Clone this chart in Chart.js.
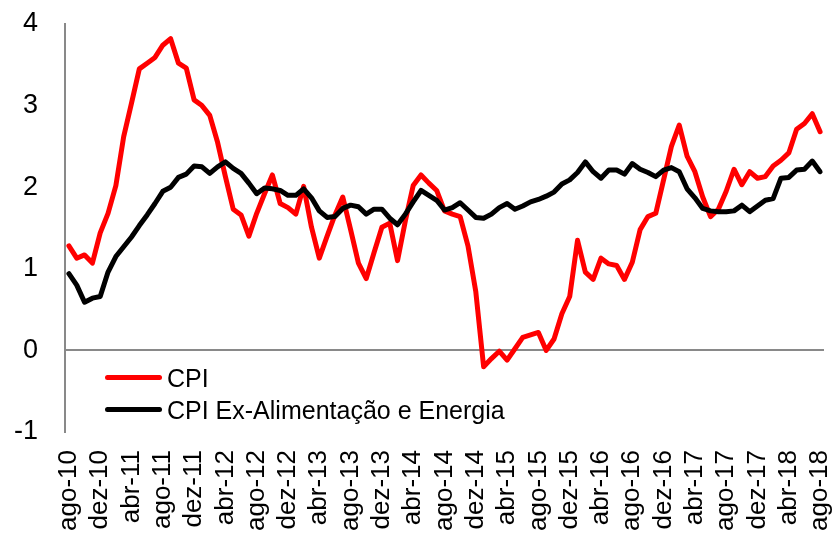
<!DOCTYPE html>
<html>
<head>
<meta charset="utf-8">
<script src="https://cdn.jsdelivr.net/npm/chart.js@4/dist/chart.umd.min.js"></script>
<style>
    body { margin: 0; background: #fff; }
    #wrap { position: relative; width: 840px; height: 539px; }
    .legend { position: absolute; left: 105px; font-family: "Liberation Sans", Arial, sans-serif; font-size: 25px; color: #000; }
    .legend div { position: relative; height: 32px; line-height: 32px; padding-left: 62px; white-space: nowrap; }
    .legend span { position: absolute; left: 0; top: 13px; width: 57px; height: 5px; border-radius: 3px; }
</style>
</head>
<body>
<div id="wrap">
    <canvas id="cpiChart" width="840" height="539"></canvas>
    <div class="legend" style="top: 362px;">
        <div><span style="background: #ff0000;"></span>CPI</div>
        <div><span style="background: #000000;"></span>CPI Ex-Alimentação e Energia</div>
    </div>
</div>
<script>
// meses, ago-10 ... ago-18
const months = [
    'ago-10','set-10','out-10','nov-10','dez-10',
    'jan-11','fev-11','mar-11','abr-11','mai-11','jun-11','jul-11','ago-11','set-11','out-11','nov-11','dez-11',
    'jan-12','fev-12','mar-12','abr-12','mai-12','jun-12','jul-12','ago-12','set-12','out-12','nov-12','dez-12',
    'jan-13','fev-13','mar-13','abr-13','mai-13','jun-13','jul-13','ago-13','set-13','out-13','nov-13','dez-13',
    'jan-14','fev-14','mar-14','abr-14','mai-14','jun-14','jul-14','ago-14','set-14','out-14','nov-14','dez-14',
    'jan-15','fev-15','mar-15','abr-15','mai-15','jun-15','jul-15','ago-15','set-15','out-15','nov-15','dez-15',
    'jan-16','fev-16','mar-16','abr-16','mai-16','jun-16','jul-16','ago-16','set-16','out-16','nov-16','dez-16',
    'jan-17','fev-17','mar-17','abr-17','mai-17','jun-17','jul-17','ago-17','set-17','out-17','nov-17','dez-17',
    'jan-18','fev-18','mar-18','abr-18','mai-18','jun-18','jul-18','ago-18'
];

const cpi = [
    1.28, 1.13, 1.17, 1.07, 1.44,
    1.68, 2.02, 2.62, 3.03, 3.45, 3.52, 3.59, 3.74, 3.82, 3.52, 3.46, 3.07,
    3.00, 2.88, 2.55, 2.13, 1.73, 1.66, 1.40, 1.68, 1.92, 2.15, 1.80, 1.75,
    1.67, 2.01, 1.51, 1.13, 1.40, 1.66, 1.88, 1.48, 1.07, 0.88, 1.20, 1.51,
    1.56, 1.10, 1.59, 2.02, 2.15, 2.05, 1.96, 1.71, 1.67, 1.64, 1.28, 0.72,
    -0.20, -0.10, -0.01, -0.12, 0.02, 0.16, 0.19, 0.22, 0.00, 0.14, 0.45, 0.66,
    1.35, 0.96, 0.87, 1.13, 1.06, 1.04, 0.87, 1.08, 1.48, 1.64, 1.68, 2.09,
    2.50, 2.76, 2.38, 2.19, 1.88, 1.64, 1.73, 1.95, 2.22, 2.03, 2.19, 2.11,
    2.13, 2.26, 2.33, 2.42, 2.71, 2.78, 2.90, 2.68
];

const cpiCore = [
    0.94, 0.80, 0.59, 0.64, 0.66,
    0.96, 1.15, 1.27, 1.39, 1.53, 1.66, 1.80, 1.95, 2.00, 2.12, 2.16, 2.26,
    2.25, 2.17, 2.25, 2.31, 2.23, 2.17, 2.05, 1.92, 1.99, 1.98, 1.96, 1.90,
    1.90, 1.98, 1.87, 1.71, 1.63, 1.64, 1.74, 1.78, 1.76, 1.67, 1.73, 1.73,
    1.62, 1.54, 1.67, 1.82, 1.96, 1.90, 1.84, 1.72, 1.75, 1.81, 1.72, 1.63,
    1.62, 1.67, 1.75, 1.80, 1.73, 1.77, 1.82, 1.85, 1.89, 1.94, 2.04, 2.09,
    2.18, 2.31, 2.19, 2.11, 2.21, 2.21, 2.16, 2.29, 2.22, 2.18, 2.13, 2.21,
    2.24, 2.19, 1.98, 1.87, 1.74, 1.71, 1.70, 1.70, 1.71, 1.78, 1.70, 1.77,
    1.84, 1.86, 2.11, 2.12, 2.21, 2.22, 2.32, 2.19
];

const yTicks = [-1, 0, 1, 2, 3, 4];
const labelEvery = 4;

const font = 'Liberation Sans, Arial, sans-serif';
const axisGray = '#898989';

new Chart(document.getElementById('cpiChart'), {
    type: 'line',
    data: {
        labels: months,
        datasets: [
            {
                label: 'CPI Ex-Alimentação e Energia',
                data: cpiCore,
                borderColor: '#000000',
                borderWidth: 5,
                pointRadius: 0,
                borderJoinStyle: 'round',
                borderCapStyle: 'round',
                tension: 0,
                order: 0
            },
            {
                label: 'CPI',
                data: cpi,
                borderColor: '#ff0000',
                borderWidth: 5,
                pointRadius: 0,
                borderJoinStyle: 'round',
                borderCapStyle: 'round',
                tension: 0,
                order: 1
            }
        ]
    },
    options: {
        responsive: false,
        animation: false,
        layout: { padding: { top: 24, right: 16, left: 0, bottom: 0 } },
        plugins: { legend: { display: false }, tooltip: { enabled: false } },
        scales: {
            x: {
                offset: true,
                grid: { display: false, drawTicks: false },
                border: { display: false },
                ticks: {
                    autoSkip: false,
                    maxRotation: 90,
                    minRotation: 90,
                    padding: 18,
                    color: '#000',
                    font: { family: font, size: 26 },
                    callback: function(val, idx) {
                        return idx % labelEvery === 0 ? months[idx] : null;
                    }
                },
                afterFit: (scale) => {
                    scale.height = 107;
                    scale.paddingLeft = 0;
                    scale.paddingRight = 0;
                }
            },
            y: {
                min: yTicks[0],
                max: yTicks[yTicks.length - 1],
                afterBuildTicks: (scale) => { scale.ticks = yTicks.map(v => ({ value: v })); },
                grid: {
                    drawTicks: false,
                    lineWidth: 2,
                    color: (ctx) => ctx.tick && ctx.tick.value === 0 ? axisGray : 'rgba(0,0,0,0)'
                },
                border: { display: true, color: axisGray, width: 2 },
                ticks: {
                    padding: 27,
                    color: '#000',
                    font: { family: font, size: 27 }
                },
                afterFit: (scale) => {
                    scale.width = 65;
                    scale.paddingTop = 0;
                    scale.paddingBottom = 0;
                }
            }
        }
    }
});
</script>
</body>
</html>
